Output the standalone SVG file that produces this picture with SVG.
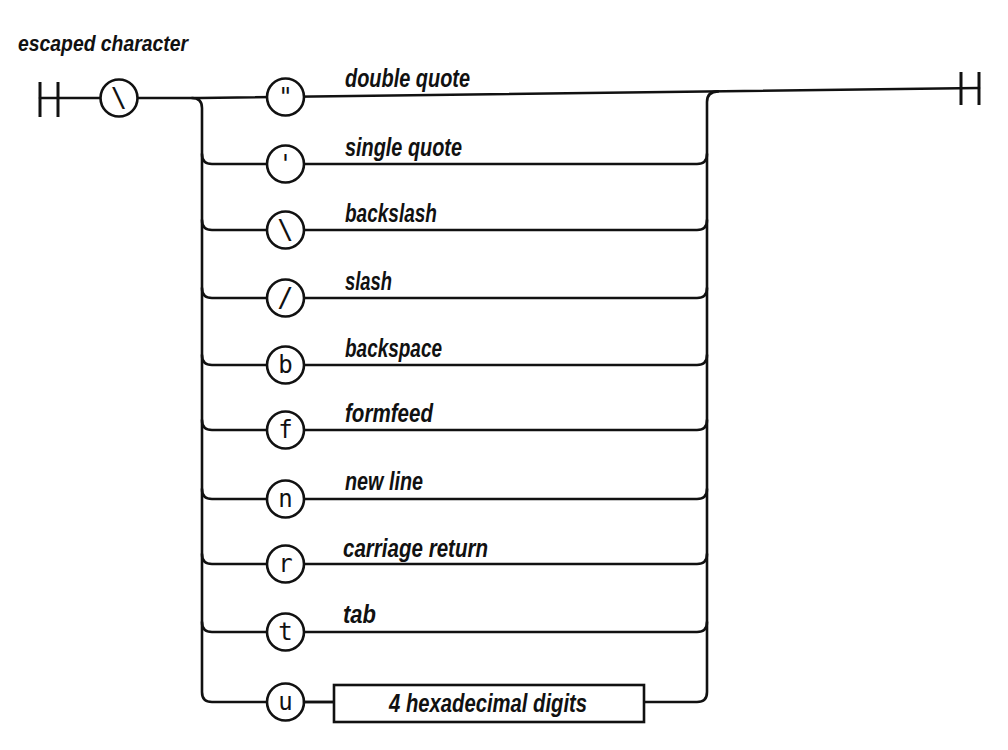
<svg xmlns="http://www.w3.org/2000/svg" width="1008" height="750" viewBox="0 0 1008 750">
<style>
.ln{fill:none;stroke:#111;stroke-width:2.6;stroke-linecap:round;stroke-linejoin:round}
.bar{fill:none;stroke:#111;stroke-width:3}
.circ{fill:#fff;stroke:#111;stroke-width:2.6}
.box{fill:#fff;stroke:#111;stroke-width:2.6}
.lbl{font-family:"Liberation Sans",Arial,sans-serif;font-weight:bold;font-style:italic;font-size:25px;fill:#111}
.ch{font-family:"DejaVu Sans Mono","Liberation Mono",monospace;font-size:24px;fill:#111;text-anchor:middle}
</style>
<rect width="1008" height="750" fill="#fff"/>
<text class="lbl" x="18" y="51" textLength="170" lengthAdjust="spacingAndGlyphs" style="font-size:22px">escaped character</text>
<g id="connectors">
<polyline class="ln" points="40,98 200,98 979,88"/>
<line class="bar" x1="40" y1="82" x2="40" y2="117"/>
<line class="bar" x1="58" y1="82" x2="58" y2="117"/>
<line class="bar" x1="961" y1="72" x2="961" y2="105"/>
<line class="bar" x1="979" y1="72" x2="979" y2="105"/>
<path class="ln" d="M192,98 Q202,98 202,108 L202,692 Q202,702 212,702 L334,702"/>
<path class="ln" d="M644,702 L697,702 Q707,702 707,692 L707,102 Q707,91.6 718,91.4"/>
<path class="ln" d="M202,154 Q202,164 212,164 L697,164 Q707,164 707,154"/>
<path class="ln" d="M202,220 Q202,230 212,230 L697,230 Q707,230 707,220"/>
<path class="ln" d="M202,288 Q202,298 212,298 L697,298 Q707,298 707,288"/>
<path class="ln" d="M202,355 Q202,365 212,365 L697,365 Q707,365 707,355"/>
<path class="ln" d="M202,420 Q202,430 212,430 L697,430 Q707,430 707,420"/>
<path class="ln" d="M202,489 Q202,499 212,499 L697,499 Q707,499 707,489"/>
<path class="ln" d="M202,554 Q202,564 212,564 L697,564 Q707,564 707,554"/>
<path class="ln" d="M202,622 Q202,632 212,632 L697,632 Q707,632 707,622"/>
</g>
<g id="n-backslash-start"><circle class="circ" cx="119" cy="98" r="18.5"/><text class="ch" x="119" y="107" style="font-size:27px">\</text></g>
<g id="n-dquote"><circle class="circ" cx="285.5" cy="97" r="18.5"/><text class="ch" x="285.5" y="105">"</text><text class="lbl" x="345" y="87" textLength="125" lengthAdjust="spacingAndGlyphs">double quote</text></g>
<g id="n-squote"><circle class="circ" cx="285.5" cy="164" r="18.5"/><text class="ch" x="285.5" y="172">'</text><text class="lbl" x="345" y="156" textLength="117" lengthAdjust="spacingAndGlyphs">single quote</text></g>
<g id="n-backslash"><circle class="circ" cx="285.5" cy="230" r="18.5"/><text class="ch" x="285.5" y="239" style="font-size:27px">\</text><text class="lbl" x="345" y="222" textLength="92" lengthAdjust="spacingAndGlyphs">backslash</text></g>
<g id="n-slash"><circle class="circ" cx="285.5" cy="298" r="18.5"/><text class="ch" x="285.5" y="307" style="font-size:27px">/</text><text class="lbl" x="345" y="290" textLength="47" lengthAdjust="spacingAndGlyphs">slash</text></g>
<g id="n-b"><circle class="circ" cx="285.5" cy="365" r="18.5"/><text class="ch" x="285.5" y="373">b</text><text class="lbl" x="345" y="357" textLength="97" lengthAdjust="spacingAndGlyphs">backspace</text></g>
<g id="n-f"><circle class="circ" cx="285.5" cy="430" r="18.5"/><text class="ch" x="285.5" y="438">f</text><text class="lbl" x="345" y="422" textLength="88" lengthAdjust="spacingAndGlyphs">formfeed</text></g>
<g id="n-n"><circle class="circ" cx="285.5" cy="499" r="18.5"/><text class="ch" x="285.5" y="507">n</text><text class="lbl" x="345" y="490" textLength="78" lengthAdjust="spacingAndGlyphs">new line</text></g>
<g id="n-r"><circle class="circ" cx="285.5" cy="564" r="18.5"/><text class="ch" x="285.5" y="572">r</text><text class="lbl" x="343" y="557" textLength="145" lengthAdjust="spacingAndGlyphs">carriage return</text></g>
<g id="n-t"><circle class="circ" cx="285.5" cy="632" r="18.5"/><text class="ch" x="285.5" y="640">t</text><text class="lbl" x="343" y="623" textLength="33" lengthAdjust="spacingAndGlyphs">tab</text></g>
<g id="n-u"><circle class="circ" cx="285.5" cy="702" r="18.5"/><text class="ch" x="285.5" y="710">u</text><line class="ln" x1="304" y1="702" x2="334" y2="702"/></g>
<g id="n-hex"><rect class="box" x="334" y="685" width="310" height="37"/><text class="lbl" x="389" y="712" textLength="198" lengthAdjust="spacingAndGlyphs">4 hexadecimal digits</text></g>
</svg>
